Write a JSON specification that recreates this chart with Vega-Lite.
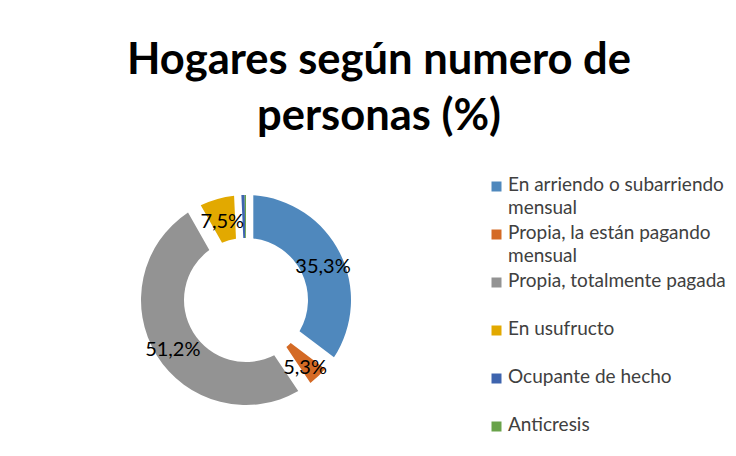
{
  "$schema": "https://vega.github.io/schema/vega-lite/v6.json",
  "autosize": {"type": "none"},
  "width": 300,
  "height": 300,
  "padding": {"left": 96, "top": 150, "right": 340, "bottom": 6},
  "background": "white",
  "config": {
    "view": {"stroke": null},
    "locale": {"number": {"decimal": ",", "thousands": ".", "grouping": [3], "currency": ["", ""]}}
  },
  "title": {
    "text": ["Hogares según numero de", "personas (%)"],
    "font": "Lato",
    "fontSize": 43.5,
    "fontWeight": "bold",
    "color": "#000000",
    "anchor": "middle",
    "dx": 133,
    "offset": 11,
    "lineHeight": 56
  },
  "data": {
    "values": [
      {"tipo": "En arriendo o subarriendo mensual", "valor": 0.353},
      {"tipo": "Propia, la están pagando mensual", "valor": 0.053},
      {"tipo": "Propia, totalmente pagada", "valor": 0.512},
      {"tipo": "En usufructo", "valor": 0.075},
      {"tipo": "Ocupante de hecho", "valor": 0.005},
      {"tipo": "Anticresis", "valor": 0.002}
    ]
  },
  "transform": [
    {"window": [{"op": "row_number", "as": "orden"}]}
  ],
  "encoding": {
    "theta": {"field": "valor", "type": "quantitative", "stack": true},
    "order": {"field": "orden", "type": "quantitative", "sort": "ascending"},
    "color": {
      "field": "tipo",
      "type": "nominal",
      "sort": ["En arriendo o subarriendo mensual", "Propia, la están pagando mensual", "Propia, totalmente pagada", "En usufructo", "Ocupante de hecho", "Anticresis"],
      "scale": {
        "domain": ["En arriendo o subarriendo mensual", "Propia, la están pagando mensual", "Propia, totalmente pagada", "En usufructo", "Ocupante de hecho", "Anticresis"],
        "range": ["#4F88BD", "#D46A25", "#939393", "#E2A900", "#3E64AE", "#69A34A"]
      },
      "legend": {
        "title": null,
        "orient": "none",
        "legendX": 391,
        "legendY": 27,
        "symbolType": "square",
        "symbolSize": 100,
        "symbolStrokeWidth": 0,
        "labelFont": "Lato",
        "labelFontSize": 19,
        "labelColor": "#404040",
        "labelLimit": 300,
        "labelOffset": 2,
        "labelBaseline": "top",
        "rowPadding": 5,
        "labelExpr": "datum.label == 'En arriendo o subarriendo mensual' ? ['En arriendo o subarriendo', 'mensual'] : datum.label == 'Propia, la están pagando mensual' ? ['Propia, la están pagando', 'mensual'] : [datum.label, ' ']",
        "encode": {
          "labels": {"update": {"lineHeight": {"value": 23}, "dy": {"value": -11}}}
        }
      }
    }
  },
  "layer": [
    {
      "mark": {"type": "arc", "radius": 105, "innerRadius": 62, "padAngle": 0.12}
    },
    {
      "mark": {"type": "arc", "radius": 105, "innerRadius": 62, "padAngle": 0},
      "encoding": {
        "opacity": {"condition": {"test": "datum.valor < 0.01", "value": 1}, "value": 0}
      }
    },
    {
      "mark": {"type": "text", "radius": 86, "font": "Lato", "fontSize": 20, "dy": 5},
      "encoding": {
        "text": {"condition": {"test": "datum.valor < 0.01", "value": ""}, "field": "valor", "type": "quantitative", "format": ".1%"},
        "color": {"value": "#000000"}
      }
    }
  ]
}
